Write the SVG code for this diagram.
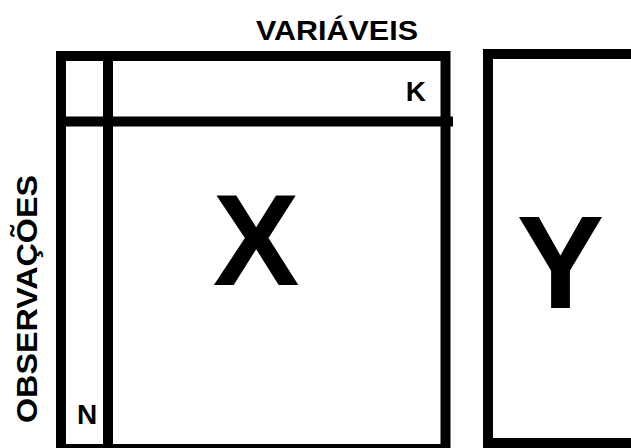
<svg xmlns="http://www.w3.org/2000/svg" width="631" height="448" viewBox="0 0 631 448">
<style>
.ln{fill:none;stroke:#000;stroke-width:10}
.t{font-family:"Liberation Sans",Arial,sans-serif;font-weight:bold;fill:#000}
</style>
<rect width="631" height="448" fill="#fff"/>
<g id="matrixX">
<rect class="ln" x="61" y="56" width="384.5" height="393"/>
<line class="ln" x1="108" y1="51" x2="108" y2="450"/>
<line class="ln" x1="56" y1="121.5" x2="453" y2="121.5"/>
<text class="t" x="256" y="285" font-size="130" text-anchor="middle">X</text>
<text class="t" x="426" y="100.5" font-size="28" text-anchor="end">K</text>
<text class="t" x="77" y="424" font-size="28">N</text>
</g>
<g id="matrixY">
<rect class="ln" x="488" y="54" width="160" height="389"/>
<text class="t" x="560.5" y="308" font-size="131" text-anchor="middle">Y</text>
</g>
<g id="labels">
<text class="t" x="256" y="39.5" font-size="28" textLength="162" lengthAdjust="spacingAndGlyphs">VARIÁVEIS</text>
<text class="t" transform="translate(37,423) rotate(-90)" font-size="30" textLength="248" lengthAdjust="spacingAndGlyphs">OBSERVAÇÕES</text>
</g>
<g id="connectors"></g>
</svg>
